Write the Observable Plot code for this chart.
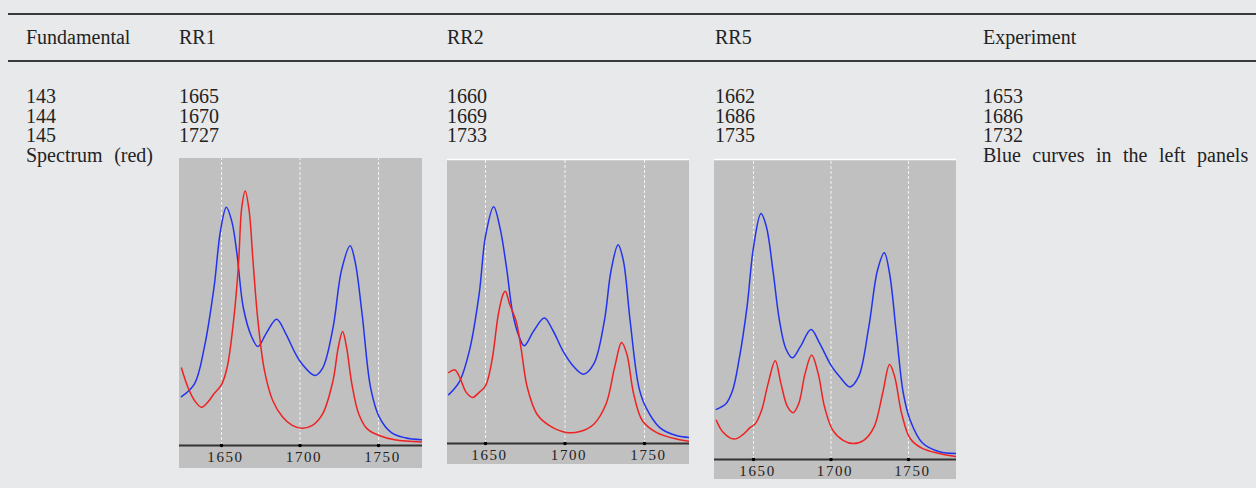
<!DOCTYPE html>
<html>
<head>
<meta charset="utf-8">
<script src="https://cdn.jsdelivr.net/npm/d3@7"></script>
<script src="https://cdn.jsdelivr.net/npm/@observablehq/plot@0.6"></script>
<style>
  html, body { margin: 0; padding: 0; background: #e8e9eb; }
  #wrap { position: relative; width: 1256px; height: 488px; background: #e8e9eb; overflow: hidden;
          font-family: "Liberation Serif", "Times New Roman", serif; color: #232323; }
  .rule { position: absolute; left: 8px; right: 0; height: 2px; background: #3a3a3a; }
  .cell { position: absolute; font-size: 20px; line-height: 20px; white-space: nowrap; word-spacing: 6.5px;
          transform: translateY(-50%); }
  .panel { position: absolute; }
  .panel svg text { letter-spacing: 1.6px; }
</style>
</head>
<body>
<div id="wrap"></div>
<script>
// ---- table content ----
const columns = ["Fundamental", "RR1", "RR2", "RR5", "Experiment"];
const fundamentals = ["143", "144", "145"];
const rr1Peaks = [1665, 1670, 1727];
const rr2Peaks = [1660, 1669, 1733];
const rr5Peaks = [1662, 1686, 1735];
const experimentPeaks = [1653, 1686, 1732];
const spectrumLabel = "Spectrum (red)";
const experimentNote = "Blue curves in the left panels";
const axisTicks = [1650, 1700, 1750];

// ---- spectra (wavenumber, relative intensity) ----
const rr1BlueX = [1624.5,1632.8,1639,1645.2,1649.4,1653.1,1656.6,1659.8,1663.9,1669.1,1673.2,1678.4,1685.1,1690.9,1697.1,1701.3,1709.4,1714.4,1721,1726.4,1731.9,1735.1,1739.5,1745,1750.4,1758,1766.8,1777.7];
const rr1BlueY = [17,21.5,34,55,75,83,78,67,48,38,34.5,39,44,39,32,28.4,24.4,27,41,61,69.6,64,46,20,10,4.6,2.7,2];
const rr1RedX = [1624.5,1628.6,1632.8,1637.3,1641.1,1645.2,1649.8,1653.5,1657.7,1660.8,1662.9,1665.1,1667.6,1670.1,1673.2,1677.4,1682.6,1688.8,1695,1701.3,1707.9,1714.4,1721,1724.3,1727.1,1729.7,1733,1737.4,1742.8,1750.4,1760.3,1777.7];
const rr1RedY = [27,20.3,15.7,13.3,15,18,21,27,43.5,63,83,88.7,81.8,64,43.5,26,15.7,10,7,6,7,11,22.6,34,39.7,34,21.5,11,5.8,3.5,2,1.2];

const rr2BlueX = [1626.9,1633.8,1639.9,1646,1650,1655.1,1659.1,1663.2,1667.2,1671.3,1674.3,1680.4,1687,1692.5,1698.6,1705,1711.6,1718.1,1724.7,1729,1733.4,1736.7,1741,1746.5,1750.9,1759.6,1770.5,1779.7];
const rr2BlueY = [17.2,22,32.7,52.6,73,83.4,76,62,45.6,37.4,34.4,39.7,44.2,39.7,32.7,27.4,24.4,28,43,61,70,64.4,43,19.7,12.7,5.6,2.7,2.1];
const rr2RedX = [1626.9,1630.8,1633.8,1637.9,1641.9,1646,1650,1654,1658.1,1661.1,1662.5,1665.2,1669.2,1672.3,1676.3,1682.4,1690.5,1700.7,1709.4,1718.1,1725.8,1731.2,1735.6,1738.9,1743.2,1748.7,1757.4,1770.5,1779.7];
const rr2RedY = [25,25.9,23.3,18,16.2,18,20.3,29,45.6,52.6,53.6,49,43.2,33.8,19.7,10.3,6.2,3.9,4.2,6.8,13.9,26.8,35.6,31.5,17.4,8,3.9,1.5,0.7];

const rr5BlueX = [1626,1632.3,1636.5,1640.6,1645.8,1650,1654.8,1658.3,1662.5,1666.7,1670.8,1675,1680.2,1687.1,1692.7,1700,1705.6,1712.2,1717.8,1724.4,1730,1734.4,1737.8,1742.2,1746.7,1751.1,1758.9,1770,1781.6];
const rr5BlueY = [16.7,18.7,23.1,33.1,50.9,70.9,82,77.6,63.1,46.4,37,33.9,37.6,43.3,38.7,31.4,27.6,24.2,27.6,44.2,63.1,68.9,62,42,22,13.1,5.6,2.6,2];
const rr5RedX = [1626,1630.2,1637.5,1642.7,1647.9,1651,1655.2,1659.4,1664,1667.7,1671.9,1675.6,1679.2,1683.3,1687.5,1691.7,1695.8,1701.1,1707.8,1714.4,1721.1,1727.8,1733.3,1737.8,1741.1,1745.6,1751.1,1758.9,1770,1781.6];
const rr5RedY = [13.1,9.2,6.8,8.1,10.7,11.8,16.4,25.3,32.9,25.3,17.6,15.6,18.7,28.7,34.8,28.7,17.6,9.8,6.4,5.3,6.4,10.9,22,31.7,27.6,15.3,7,3.7,2,0.9];

const wrap = document.getElementById("wrap");

function addRule(y) {
  const r = document.createElement("div");
  r.className = "rule";
  r.style.top = (y - 1) + "px";
  wrap.appendChild(r);
}
function addCell(text, x, y) {
  const c = document.createElement("div");
  c.className = "cell";
  c.textContent = text;
  c.style.left = x + "px";
  c.style.top = y + "px";
  wrap.appendChild(c);
}

addRule(14);
addRule(61);

const colX = [26, 179, 447, 715, 983];
const headerY = 37;
const rowY = [96, 115.5, 135, 155];

columns.forEach((c, i) => addCell(c, colX[i], headerY));
const colValues = [fundamentals, rr1Peaks, rr2Peaks, rr5Peaks, experimentPeaks];
colValues.forEach((vals, i) => vals.forEach((v, j) => addCell(String(v), colX[i], rowY[j])));
addCell(spectrumLabel, colX[0], rowY[3]);
addCell(experimentNote, colX[4], rowY[3]);

function toRows(xs, ys) { return xs.map((x, i) => ({ x, y: ys[i] })); }

function panel(opts) {
  const { left, top, width, height, marginBottom, domain, blueX, blueY, redX, redY, topLine } = opts;
  const marks = [
    Plot.ruleX(axisTicks, { x: d => d, y1: 0, y2: 100, stroke: "#f2f2f2", strokeWidth: 1, strokeDasharray: "3,2" }),
    Plot.line(toRows(blueX, blueY), { x: "x", y: "y", stroke: "#2233ee", strokeWidth: 1.5, curve: "catmull-rom", clip: true }),
    Plot.line(toRows(redX, redY), { x: "x", y: "y", stroke: "#ee2222", strokeWidth: 1.5, curve: "catmull-rom", clip: true }),
    Plot.ruleY([0], { stroke: "#333", strokeWidth: 2 }),
    Plot.dot(axisTicks, { x: d => d, y: 0, r: 1.8, fill: "#000", stroke: null }),
    Plot.text(axisTicks, { x: d => d, y: 0, text: d => String(d), dy: 12, dx: 4, fontSize: 15, fontFamily: "Liberation Serif", fill: "#222" })
  ];
  if (topLine) marks.push(Plot.ruleY([100], { stroke: "#ffffff", strokeWidth: 1.5 }));
  const chart = Plot.plot({
    width, height,
    marginTop: 0, marginBottom, marginLeft: 0, marginRight: 0,
    x: { domain, axis: null },
    y: { domain: [0, 100], axis: null },
    style: { background: "#c0c0c0", overflow: "visible" },
    marks
  });
  const d = document.createElement("div");
  d.className = "panel";
  d.style.left = left + "px";
  d.style.top = top + "px";
  d.appendChild(chart);
  wrap.appendChild(d);
}

panel({ left: 179, top: 158, width: 243, height: 310, marginBottom: 23, domain: [1623.25, 1778],
        blueX: rr1BlueX, blueY: rr1BlueY, redX: rr1RedX, redY: rr1RedY, topLine: false });
panel({ left: 447, top: 159, width: 242, height: 305, marginBottom: 21, domain: [1626.1, 1778.3],
        blueX: rr2BlueX, blueY: rr2BlueY, redX: rr2RedX, redY: rr2RedY, topLine: true });
panel({ left: 714, top: 159, width: 242, height: 320, marginBottom: 20, domain: [1624.8, 1781],
        blueX: rr5BlueX, blueY: rr5BlueY, redX: rr5RedX, redY: rr5RedY, topLine: true });
</script>
</body>
</html>
